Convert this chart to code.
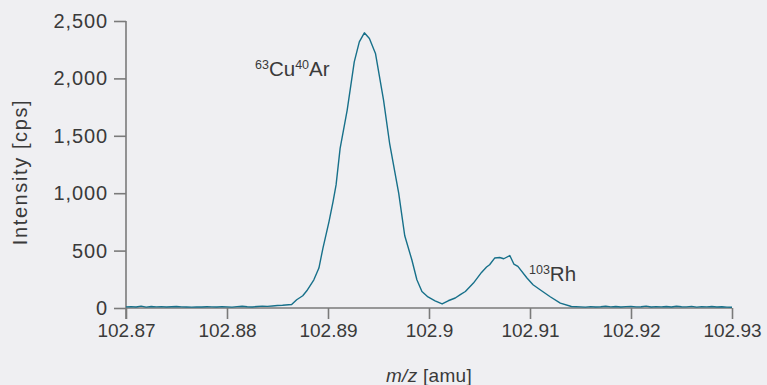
<!DOCTYPE html>
<html>
<head>
<meta charset="utf-8">
<script src="https://cdn.jsdelivr.net/npm/d3@7"></script>
<style>
  body { margin: 0; background: #efeff2; }
  svg text { font-family: 'Liberation Sans', Arial, sans-serif; fill: #3a3a3a; }
</style>
</head>
<body>
<div class="chart"></div>
<script>
const width = 767;
const height = 385;
const margin = { top: 21, right: 35, bottom: 77, left: 126 };

// m/z values [amu]
const mz = [
  102.8700, 102.8705, 102.8710, 102.8715, 102.8720, 102.8725, 102.8730, 102.8735,
  102.8740, 102.8745, 102.8750, 102.8755, 102.8760, 102.8765, 102.8770, 102.8775,
  102.8780, 102.8785, 102.8790, 102.8795, 102.8800, 102.8805, 102.8810, 102.8815,
  102.8820, 102.8825, 102.8830, 102.8835, 102.8840, 102.8845, 102.8850, 102.8855,
  102.8864, 102.8869, 102.8875, 102.8879, 102.8886, 102.8891, 102.8895, 102.8901,
  102.8905, 102.8908, 102.8912, 102.8919, 102.8926, 102.8931, 102.8936, 102.8941,
  102.8947, 102.8955, 102.8961, 102.8970, 102.8976, 102.8983, 102.8988, 102.8993,
  102.8999, 102.9006, 102.9013, 102.9019, 102.9026, 102.9031, 102.9036, 102.9044,
  102.9052, 102.9057, 102.9060, 102.9065, 102.9070, 102.9074, 102.9080, 102.9084,
  102.9088, 102.9097, 102.9103, 102.9110, 102.9120, 102.9130, 102.9141, 102.9150,
  102.9155, 102.9160, 102.9165, 102.9170, 102.9175, 102.9180, 102.9185, 102.9190,
  102.9195, 102.9200, 102.9205, 102.9210, 102.9215, 102.9220, 102.9225, 102.9230,
  102.9235, 102.9240, 102.9245, 102.9250, 102.9255, 102.9260, 102.9265, 102.9270,
  102.9275, 102.9280, 102.9285, 102.9290, 102.9295, 102.9300
];

// intensity [cps]
const intensity = [
  10, 12, 9, 16, 8, 13, 10, 12,
  9, 11, 13, 10, 9, 8, 10, 9,
  11, 10, 9, 12, 10, 8, 12, 15,
  11, 9, 13, 16, 14, 18, 22, 24,
  31, 72, 107, 150, 246, 348, 522, 753,
  927, 1072, 1391, 1724, 2144, 2318, 2397, 2348,
  2217, 1811, 1435, 1000, 629, 420, 246, 144,
  96, 63, 35, 63, 87, 116, 144, 217,
  310, 357, 377, 435, 440, 429, 457, 383,
  362, 261, 203, 159, 98, 42, 13, 10,
  8, 12, 9, 11, 15, 10, 13, 9,
  12, 14, 10, 11, 16, 9, 12, 10,
  13, 9, 15, 11, 10, 14, 8, 12,
  10, 13, 9, 11, 8, 7
];

const xTicks = [102.87, 102.88, 102.89, 102.9, 102.91, 102.92, 102.93];
const yTicks = [0, 500, 1000, 1500, 2000, 2500];

const data = mz.map((d, i) => ({ mz: d, value: intensity[i] }));

const svg = d3
  .select('.chart')
  .append('svg')
  .attr('width', width)
  .attr('height', height);

svg
  .append('rect')
  .attr('width', width)
  .attr('height', height)
  .attr('fill', '#efeff2');

const x = d3
  .scaleLinear()
  .domain([102.87, 102.93])
  .range([margin.left, width - margin.right]);
const y = d3
  .scaleLinear()
  .domain([0, 2500])
  .range([height - margin.bottom, margin.top]);

const xAxis = svg
  .append('g')
  .attr('transform', `translate(0, ${height - margin.bottom})`)
  .call(
    d3
      .axisBottom(x)
      .tickValues(xTicks)
      .tickFormat(d => d3.format('')(+d.toFixed(2)))
      .tickSize(11)
      .tickSizeOuter(0)
      .tickPadding(5)
  );

const yAxis = svg
  .append('g')
  .attr('transform', `translate(${margin.left}, 0)`)
  .call(
    d3
      .axisLeft(y)
      .tickValues(yTicks)
      .tickFormat(d3.format(','))
      .tickSize(12)
      .tickSizeOuter(0)
      .tickPadding(6)
  );

[xAxis, yAxis].forEach(g => {
  g.selectAll('path, line').attr('stroke', '#7a7a7a').attr('stroke-width', 1.6);
  g.selectAll('text').attr('font-size', 19).attr('fill', '#3a3a3a');
});
yAxis.selectAll('text').attr('font-size', 20).attr('letter-spacing', 0.9);
xAxis.select('.domain').attr('d', `M${x(102.87)},0H${x(102.93)}`);
yAxis.select('.domain').attr('d', `M0,${y(0) + 11}V${y(2500)}`);

// spectrum
const line = d3
  .line()
  .x(d => x(d.mz))
  .y(d => y(d.value));

svg
  .append('path')
  .datum(data)
  .attr('fill', 'none')
  .attr('stroke', '#17708a')
  .attr('stroke-width', 1.4)
  .attr('stroke-linejoin', 'round')
  .attr('d', line);

// axis titles
svg
  .append('text')
  .attr('x', x(102.9))
  .attr('y', 382)
  .attr('text-anchor', 'middle')
  .attr('font-size', 19)
  .attr('letter-spacing', 0.3)
  .html('<tspan font-style="italic">m/z</tspan> [amu]');

svg
  .append('text')
  .attr('transform', `translate(27, 172) rotate(-90)`)
  .attr('text-anchor', 'middle')
  .attr('font-size', 20)
  .attr('letter-spacing', 1.6)
  .text('Intensity [cps]');

// peak labels
function isotopeLabel(px, py, parts) {
  const t = svg.append('text').attr('x', px).attr('y', py).attr('font-size', 20);
  parts.forEach(p => {
    t.append('tspan')
      .attr('font-size', p.sup ? 12.5 : 20.5)
      .attr('dy', p.sup ? -7.5 : (p.after ? 7.5 : 0))
      .text(p.text);
  });
}

isotopeLabel(255, 76, [
  { text: '63', sup: true },
  { text: 'Cu', after: true },
  { text: '40', sup: true },
  { text: 'Ar', after: true }
]);
isotopeLabel(529, 281, [
  { text: '103', sup: true },
  { text: 'Rh', after: true }
]);
</script>
</body>
</html>
